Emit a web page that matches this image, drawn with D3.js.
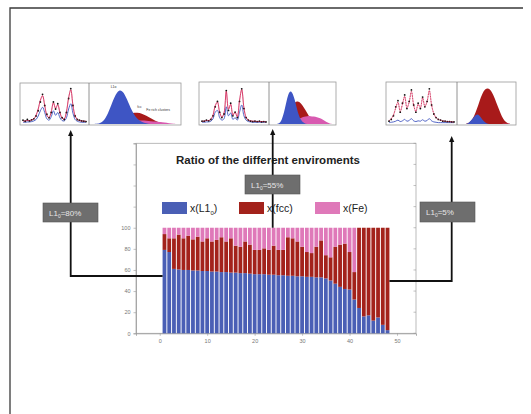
<!DOCTYPE html>
<html><head><meta charset="utf-8">
<script src="https://cdn.jsdelivr.net/npm/d3@7"></script>
<style>
html,body{margin:0;padding:0;background:#fff;}
svg{display:block;font-family:"Liberation Sans",Arial,sans-serif;}
</style></head>
<body>
<svg id="c" width="531" height="414"></svg>
<script>
// ---------------- DATA ----------------
const categories = [1,2,3,4,5,6,7,8,9,10,11,12,13,14,15,16,17,18,19,20,21,22,23,24,25,26,27,28,29,30,31,32,33,34,35,36,37,38,39,40,41,42,43,44,45,46,47,48];
const xL10 = [79,77,61,60.5,60,60,59.5,59.5,59,59,58.5,58.5,58,58,57.5,57.5,57,57,56.5,56,56,56,55.5,55.5,55,55,54.5,54.5,54,54,53.5,53.5,53,53,52,50,47,44,42,41.5,32,24,16,17,12,15,8,3];
const xFcc = [15,13,29,33,30,32.5,29.5,32,28,31,28.5,30,33,29,32.5,25.5,25,30,27.5,23,23,24.5,23.5,27.5,24,24,36.5,35.5,33,28,23.5,22.5,29,35,22,22,35,40,43,35.5,26,76,84,83,88,85,92,97];
const xFe  = [6,10,10,6.5,10,7.5,11,8.5,13,10,13,11.5,9,13,10,17,18,13,16,21,21,19.5,21,17,21,21,9,10,13,18,23,24,18,12,26,28,18,16,15,23,42,0,0,0,0,0,0,0];
const seriesNames = ["x(L1", "x(fcc)", "x(Fe)"];
const xTicks = [0,10,20,30,40,50];
const yTicks = [0,20,40,60,80,100,120,140,160,180];
const yTickLabels = ["0","20","40","60","80","100","","","",""];
const title = "Ratio of the different enviroments";
const annotations = ["80%", "55%", "5%"];

// inset spectra (normalised intensity)
const specA = [0.08,0.05,0.1,0.06,0.09,0.12,0.2,0.35,0.6,0.82,0.5,0.25,0.15,0.3,0.6,0.4,0.55,0.3,0.15,0.1,0.3,0.7,0.98,0.5,0.2,0.1,0.08,0.06,0.05,0.04];
const fitA  = [0.06,0.06,0.07,0.07,0.09,0.12,0.22,0.4,0.65,0.78,0.5,0.22,0.15,0.32,0.58,0.42,0.52,0.3,0.14,0.12,0.32,0.72,0.95,0.5,0.2,0.1,0.07,0.06,0.05,0.05];
const blueA = [0.02,0.02,0.03,0.03,0.04,0.06,0.1,0.2,0.35,0.45,0.3,0.12,0.08,0.18,0.35,0.22,0.3,0.15,0.07,0.06,0.15,0.4,0.55,0.28,0.1,0.05,0.03,0.02,0.02,0.02];
const specB = [0.05,0.05,0.08,0.06,0.1,0.2,0.45,0.6,0.3,0.15,0.25,0.9,0.35,0.55,0.2,0.3,0.15,0.6,0.95,0.4,0.15,0.08,0.05,0.04,0.05,0.04,0.05,0.03,0.04,0.03];
const fitB  = [0.05,0.05,0.07,0.07,0.1,0.22,0.48,0.58,0.3,0.16,0.28,0.88,0.38,0.52,0.22,0.3,0.17,0.62,0.93,0.42,0.15,0.08,0.06,0.05,0.05,0.04,0.04,0.04,0.04,0.03];
const blueB = [0.02,0.02,0.03,0.03,0.05,0.12,0.3,0.35,0.15,0.08,0.12,0.45,0.2,0.28,0.1,0.15,0.08,0.3,0.5,0.2,0.08,0.04,0.03,0.02,0.02,0.02,0.02,0.02,0.02,0.02];
const specC = [0.05,0.1,0.2,0.45,0.62,0.3,0.55,0.78,0.4,0.6,0.92,0.5,0.3,0.55,0.4,0.72,0.45,0.6,0.95,0.5,0.25,0.15,0.1,0.08,0.05,0.05,0.04,0.04,0.03,0.03];
const fitC  = [0.06,0.12,0.22,0.42,0.58,0.32,0.52,0.74,0.42,0.58,0.88,0.5,0.32,0.52,0.42,0.7,0.46,0.6,0.9,0.5,0.26,0.15,0.1,0.08,0.06,0.05,0.04,0.04,0.03,0.03];
const blueC = [0.01,0.02,0.03,0.05,0.08,0.04,0.06,0.1,0.05,0.07,0.12,0.06,0.04,0.06,0.05,0.09,0.05,0.07,0.12,0.06,0.03,0.02,0.01,0.01,0.01,0.01,0.01,0.01,0.01,0.01];
// inset distributions
const distABlue = [0,0,0.03,0.15,0.45,0.8,1.0,0.92,0.62,0.32,0.14,0.06,0.02,0,0,0,0,0,0,0];
const distARed  = [0,0,0,0,0,0.04,0.1,0.18,0.26,0.32,0.33,0.3,0.24,0.16,0.09,0.04,0.01,0,0,0];
const distAPink = [0,0,0,0,0,0,0.02,0.04,0.07,0.09,0.1,0.1,0.09,0.08,0.07,0.06,0.04,0.02,0.01,0];
const distBBlue = [0,0,0,0.08,0.4,0.85,0.95,0.72,0.32,0.1,0.02,0,0,0,0,0,0,0,0,0];
const distBRed  = [0,0,0,0,0.05,0.2,0.45,0.6,0.64,0.58,0.45,0.3,0.15,0.06,0.02,0,0,0,0,0];
const distBPink = [0,0,0,0,0,0.02,0.05,0.09,0.13,0.17,0.2,0.22,0.22,0.21,0.19,0.16,0.11,0.05,0.01,0];
const distCBlue = [0,0,0,0.02,0.1,0.2,0.28,0.24,0.12,0.04,0,0,0,0,0,0,0,0,0,0];
const distCRed  = [0,0,0,0.02,0.08,0.2,0.4,0.64,0.85,0.97,1.0,0.95,0.8,0.6,0.4,0.2,0.08,0.02,0,0];
const distCPink = [0,0,0,0,0,0,0,0,0,0,0,0,0,0,0,0,0.01,0.01,0,0];

// ---------------- LAYOUT ----------------
const svg = d3.select("#c");
const C = {blue:"#4a5fb5", red:"#a3221b", pink:"#df79b9"};

// outer frame
svg.append("path").attr("d","M10,414 V8 H523").attr("fill","none").attr("stroke","#3a3a3a").attr("stroke-width",1.3);

// main chart scales
const x = d3.scaleLinear().domain([-5,54]).range([136,416]);
const y = d3.scaleLinear().domain([0,180]).range([333.3,143.3]);

// plot frame
svg.append("rect").attr("x",x(-5)).attr("y",y(180)).attr("width",x(54)-x(-5)).attr("height",y(0)-y(180))
  .attr("fill","#fff").attr("stroke","#aaa").attr("stroke-width",0.8);

// axes
const yAxis = d3.axisLeft(y).tickValues(yTicks).tickSize(2.5).tickFormat((d,i)=>yTickLabels[i]);
const gy = svg.append("g").attr("transform",`translate(${x(-5)},0)`).call(yAxis);
const xAxis = d3.axisBottom(x).tickValues(xTicks).tickSize(2.5).tickFormat(d3.format("d"));
const gx = svg.append("g").attr("transform",`translate(0,${y(0)})`).call(xAxis);
[gy,gx].forEach(g=>{
  g.select(".domain").attr("stroke","#999").attr("stroke-width",0.8);
  g.selectAll(".tick line").attr("stroke","#999").attr("stroke-width",0.6);
  g.selectAll(".tick text").attr("fill","#777").attr("font-size",5.5);
});
// mirrored ticks on right edge
svg.append("g").selectAll("line").data(yTicks).join("line")
  .attr("x1",x(54)).attr("x2",x(54)-2.5).attr("y1",d=>y(d)).attr("y2",d=>y(d)).attr("stroke","#999").attr("stroke-width",0.6);

// stacked bars
const stackData = categories.map((c,i)=>({c, l10:xL10[i], fcc:xFcc[i], fe:xFe[i]}));
const stack = d3.stack().keys(["l10","fcc","fe"])(stackData);
const colors = [C.blue, C.red, C.pink];
const bw = 0.8;
svg.append("g").selectAll("g").data(stack).join("g").attr("fill",(d,i)=>colors[i])
  .selectAll("rect").data(d=>d).join("rect")
  .attr("x",d=>x(d.data.c-bw/2)).attr("width",d=>x(d.data.c+bw/2)-x(d.data.c-bw/2))
  .attr("y",d=>y(d[1])).attr("height",d=>Math.max(0,y(d[0])-y(d[1])));

// title
svg.append("text").attr("x",268).attr("y",164).attr("text-anchor","middle")
  .attr("font-size",11.5).attr("font-weight","bold").attr("fill","#222").text(title);

// legend
const legX = [162,239,315];
seriesNames.forEach((n,i)=>{
  svg.append("rect").attr("x",legX[i]).attr("y",202).attr("width",25).attr("height",12).attr("fill",colors[i]);
  const t = svg.append("text").attr("x",legX[i]+28).attr("y",212).attr("font-size",10.5).attr("fill","#222");
  if(i===0){ t.text(n); t.append("tspan").attr("font-size",6).attr("dy",3).text("0"); t.append("tspan").attr("dy",-3).text(")"); }
  else t.text(n);
});

// arrows
const arrow = (d)=>svg.append("path").attr("d",d).attr("fill","none").attr("stroke","#111").attr("stroke-width",1.8);
const head = (cx,cy)=>svg.append("path").attr("d",`M${cx},${cy} l-2.6,6 h5.2 z`).attr("fill","#111");
arrow(`M${x(0.6)},276 H70.7 V135`); head(70.7,130);
arrow(`M272.7,${y(100)} V134`); head(272.7,129);
arrow(`M${x(48.4)},281 H451.7 V141`); head(451.7,136);

// annotation boxes
const boxes = [{x:43,y:203,w:55,h:19},{x:245,y:175,w:55,h:19},{x:420,y:202,w:55,h:20}];
boxes.forEach((b,i)=>{
  svg.append("rect").attr("x",b.x).attr("y",b.y).attr("width",b.w).attr("height",b.h).attr("fill","#6e6e6e").attr("stroke","#555").attr("stroke-width",0.6);
  const t = svg.append("text").attr("x",b.x+6).attr("y",b.y+b.h/2+3).attr("font-size",8).attr("fill","#e6e6e6").text("L1");
  t.append("tspan").attr("font-size",5).attr("dy",2).text("0");
  t.append("tspan").attr("dy",-2).text("="+annotations[i]);
});

// insets
const insets = [
  {x0:20,x1:181,xd:89,y0:83,y1:125,spec:specA,fit:fitA,sblue:blueA,db:distABlue,dr:distARed,dp:distAPink,dash:false,labels:true},
  {x0:199,x1:336,xd:269,y0:82,y1:125,spec:specB,fit:fitB,sblue:blueB,db:distBBlue,dr:distBRed,dp:distBPink,dash:false,labels:false},
  {x0:386,x1:516,xd:457,y0:82,y1:125,spec:specC,fit:fitC,sblue:blueC,db:distCBlue,dr:distCRed,dp:distCPink,dash:true,labels:false}
];
insets.forEach(p=>{
  const g = svg.append("g");
  g.append("rect").attr("x",p.x0).attr("y",p.y0).attr("width",p.x1-p.x0).attr("height",p.y1-p.y0).attr("fill","#fff").attr("stroke","#999").attr("stroke-width",0.8);
  g.append("line").attr("x1",p.xd).attr("x2",p.xd).attr("y1",p.y0).attr("y2",p.y1).attr("stroke","#777").attr("stroke-width",0.8);
  // spectrum
  const sx = d3.scaleLinear().domain([0,p.spec.length-1]).range([p.x0+3,p.xd-3]);
  const sy = d3.scaleLinear().domain([0,1]).range([p.y1-2,p.y0+5]);
  const ln = d3.line().x((d,i)=>sx(i)).y(d=>sy(d)).curve(d3.curveCatmullRom);
  g.append("path").attr("d",ln(p.sblue)).attr("fill","none").attr("stroke","#3f55c0").attr("stroke-width",0.9);
  g.append("path").attr("d",ln(p.fit)).attr("fill","none").attr("stroke","#e0407a").attr("stroke-width",0.9).attr("stroke-dasharray",p.dash?"1.5,1":null);
  g.selectAll("circle.s").data(p.spec).join("circle").attr("class","s").attr("cx",(d,i)=>sx(i)).attr("cy",d=>sy(d)).attr("r",0.9).attr("fill","#111");
  g.append("path").attr("d",ln(p.fit)).attr("fill","none").attr("stroke","#c0203a").attr("stroke-width",0.5).attr("opacity",0.7);
  // distributions
  const dx = d3.scaleLinear().domain([0,p.db.length-1]).range([p.xd+3,p.x1-3]);
  const dy = d3.scaleLinear().domain([0,1]).range([p.y1-1,p.y0+6]);
  const ar = d3.area().x((d,i)=>dx(i)).y0(p.y1-1).y1(d=>dy(d)).curve(d3.curveBasis);
  g.append("path").attr("d",ar(p.dr)).attr("fill","#a81a1a");
  g.append("path").attr("d",ar(p.dp)).attr("fill","#d85ab0");
  g.append("path").attr("d",ar(p.db)).attr("fill","#3e55c4");
  if(p.labels){
    g.append("text").attr("x",dx(5)-4).attr("y",dy(1)-1).attr("font-size",3.5).attr("fill","#333").text("L1o");
    g.append("text").attr("x",dx(10)).attr("y",dy(0.45)).attr("font-size",3.5).attr("fill","#333").text("fcc");
    g.append("text").attr("x",dx(12)).attr("y",dy(0.38)).attr("font-size",3.5).attr("fill","#333").text("Fe rich clusters");
  }
});
</script>
</body></html>
